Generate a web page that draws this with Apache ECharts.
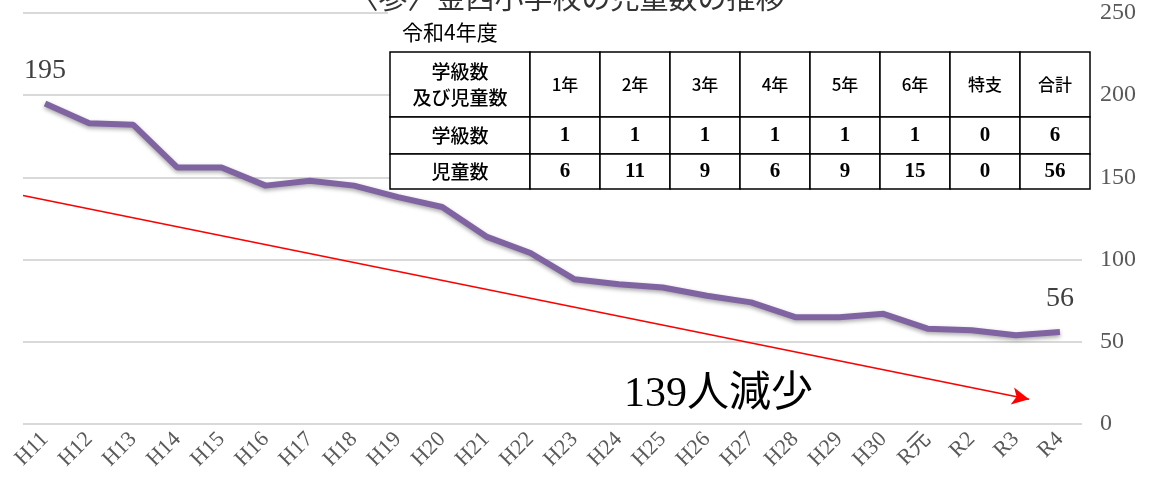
<!DOCTYPE html>
<html>
<head>
<meta charset="utf-8">
<script src="https://cdn.jsdelivr.net/npm/echarts@6/dist/echarts.min.js"></script>
<style>
html, body { margin: 0; padding: 0; background: #fff; }
#main { width: 1155px; height: 495px; }
</style>
</head>
<body>
<div id="main"></div>
<script>
// 児童数の推移
var years = ['H11', 'H12', 'H13', 'H14', 'H15', 'H16', 'H17', 'H18', 'H19', 'H20', 'H21', 'H22',
    'H23', 'H24', 'H25', 'H26', 'H27', 'H28', 'H29', 'H30', 'R元', 'R2', 'R3', 'R4'];
var students = [195, 183, 182, 156, 156, 145, 148, 145, 138, 132, 114, 104,
    88, 85, 83, 78, 74, 65, 65, 67, 58, 57, 54, 56];
var yTicks = [0, 50, 100, 150, 200, 250];

// 減少の矢印 (始点・終点)
var arrowFrom = [-0.5, 139];
var arrowTo = [22.3, 15];
var arrowText = '139人減少';

// 令和4年度 表
var tableCaption = '令和4年度';
var tableHead = ['学級数\n及び児童数', '1年', '2年', '3年', '4年', '5年', '6年', '特支', '合計'];
var classRow = ['学級数', '1', '1', '1', '1', '1', '1', '0', '6'];
var pupilRow = ['児童数', '6', '11', '9', '6', '9', '15', '0', '56'];

var titleText = '〈参〉金西小学校の児童数の推移';

var serif = '"Liberation Serif", "DejaVu Serif", "Noto Sans CJK JP", serif';
var gothic = '"Noto Sans CJK JP", sans-serif';

var myChart = echarts.init(document.getElementById('main'));

function buildTable() {
    var left = 390, top = 52;
    var colW = [140, 70, 70, 70, 70, 70, 70, 70, 70];
    var rowH = [65, 37, 35];
    var rows = [tableHead, classRow, pupilRow];
    var items = [];
    // 表の背景 (目盛線を隠す)
    items.push({
        type: 'rect',
        shape: { x: 388, y: 0, width: 704, height: 52 },
        style: { fill: '#fff' },
        z: 9
    });
    var y = top;
    for (var r = 0; r < rows.length; r++) {
        var x = left;
        for (var c = 0; c < rows[r].length; c++) {
            var font;
            if (r > 0 && c > 0) font = 'bold 21px ' + serif;
            else if (c === 0) font = '500 19px ' + gothic;
            else font = '500 17px ' + gothic;
            items.push({
                type: 'rect',
                shape: { x: x, y: y, width: colW[c], height: rowH[r] },
                style: { fill: '#fff', stroke: '#000', lineWidth: 1.5 },
                z: 10
            });
            items.push({
                type: 'text',
                x: x + colW[c] / 2,
                y: y + rowH[r] / 2,
                style: {
                    text: rows[r][c],
                    fill: '#000',
                    align: 'center',
                    verticalAlign: 'middle',
                    font: font,
                    lineHeight: 26
                },
                z: 11
            });
            x += colW[c];
        }
        y += rowH[r];
    }
    items.push({
        type: 'text',
        x: 402, y: 32,
        style: { text: tableCaption, fill: '#000', font: '21px ' + gothic, verticalAlign: 'middle' },
        z: 11
    });
    return items;
}

var graphics = buildTable();
graphics.push({
    type: 'text',
    x: 567, y: -2,
    style: { text: titleText, fill: '#333', font: '29px ' + gothic, align: 'center', verticalAlign: 'middle' },
    z: 11
});

var last = students.length - 1;

var option = {
    animation: false,
    grid: { left: 23, right: 73, top: 13, bottom: 71 },
    xAxis: [
        {
            type: 'category',
            data: years,
            boundaryGap: true,
            axisLine: { show: false },
            axisTick: { show: false },
            axisLabel: {
                interval: 0,
                rotate: 45,
                margin: 12,
                color: '#595959',
                fontFamily: serif,
                fontSize: 22
            }
        },
        {
            type: 'value',
            min: -0.5,
            max: 23.5,
            show: false
        }
    ],
    yAxis: {
        type: 'value',
        position: 'right',
        min: 0,
        max: 250,
        interval: 50,
        axisLine: { show: false },
        axisTick: { show: false },
        splitLine: { lineStyle: { color: '#d9d9d9', width: 2 } },
        axisLabel: {
            margin: 18,
            color: '#595959',
            fontFamily: serif,
            fontSize: 24,
            formatter: function (v) { return yTicks.indexOf(v) >= 0 ? String(v) : ''; }
        }
    },
    series: [
        {
            name: '児童数',
            type: 'line',
            data: students,
            showSymbol: false,
            lineStyle: {
                color: '#8064A2',
                width: 6,
                shadowColor: 'rgba(0,0,0,0.35)',
                shadowBlur: 4,
                shadowOffsetY: 2
            },
            markPoint: {
                symbol: 'circle',
                symbolSize: 2,
                itemStyle: { color: 'rgba(0,0,0,0)' },
                label: {
                    show: true,
                    position: 'top',
                    distance: 18,
                    color: '#404040',
                    fontFamily: serif,
                    fontSize: 28,
                    formatter: '{c}'
                },
                data: [
                    { coord: [0, students[0]], value: students[0] },
                    { coord: [last, students[last]], value: students[last] }
                ]
            },
            z: 5
        },
        {
            name: 'arrow',
            type: 'line',
            xAxisIndex: 1,
            data: [arrowFrom, arrowTo],
            symbol: 'none',
            lineStyle: { opacity: 0 },
            silent: true,
            markLine: {
                silent: true,
                symbol: ['none', 'arrow'],
                symbolSize: [13, 17],
                label: { show: false },
                lineStyle: { color: '#ff0000', width: 1.6, type: 'solid' },
                data: [[{ coord: arrowFrom }, { coord: arrowTo }]]
            },
            z: 4
        }
    ],
    graphic: graphics.concat([
        {
            type: 'text',
            x: 624, y: 395,
            style: { text: arrowText, fill: '#000', font: '42px ' + serif, verticalAlign: 'middle' },
            z: 11
        }
    ])
};

myChart.setOption(option);
</script>
</body>
</html>
